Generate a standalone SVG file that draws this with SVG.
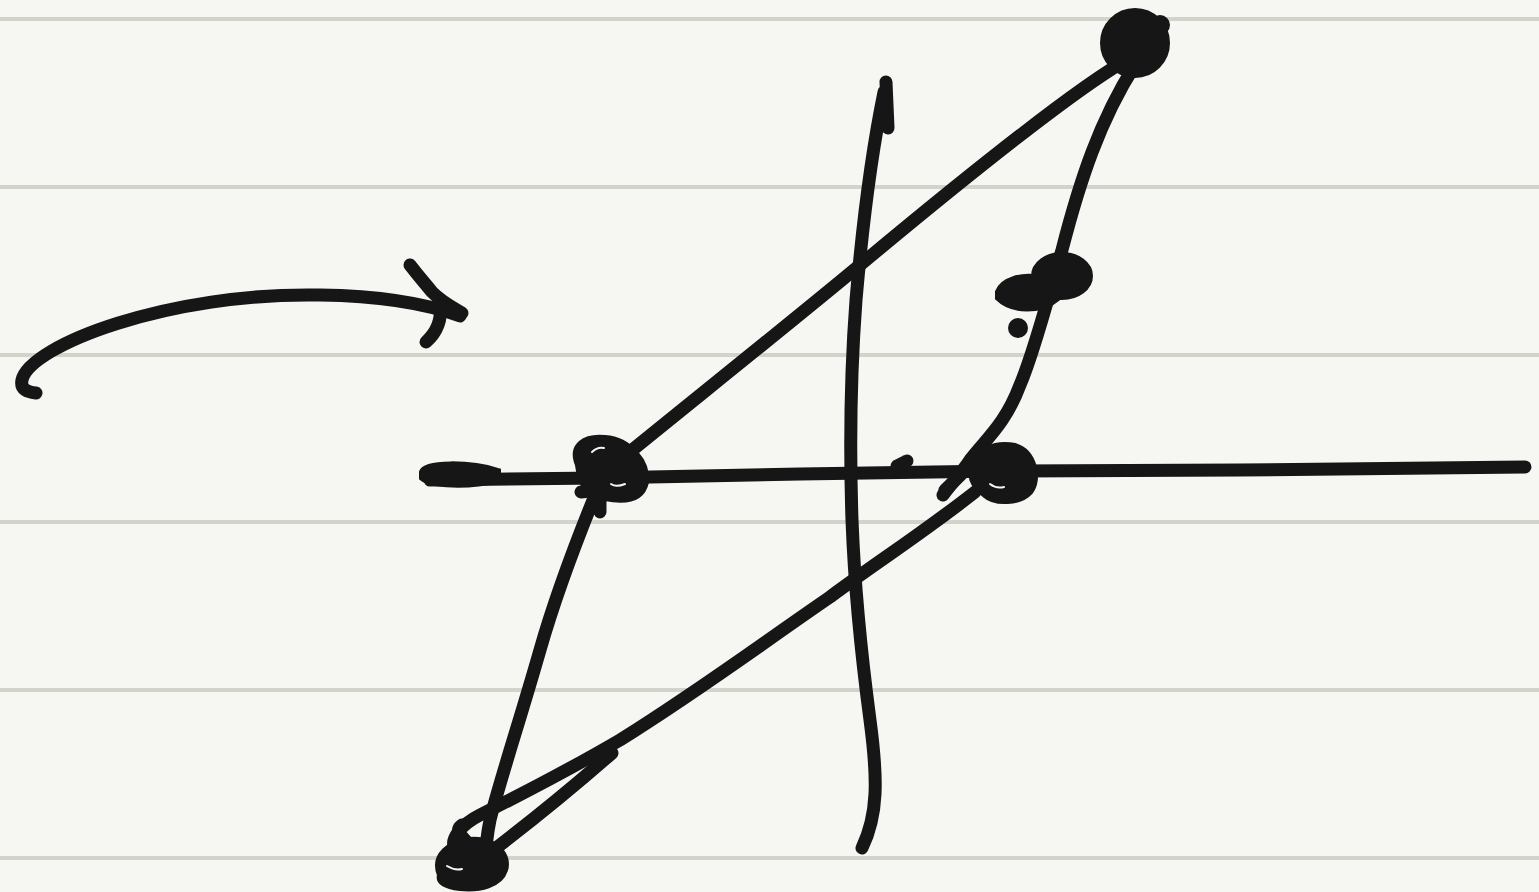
<svg xmlns="http://www.w3.org/2000/svg" width="1539" height="892" viewBox="0 0 1539 892">
<style>
.rule{stroke:#d3d3cc;stroke-width:4}
.ink{fill:none;stroke:#161616;stroke-width:13;stroke-linecap:round;stroke-linejoin:round}
.blob{fill:#161616;stroke:#161616;stroke-width:6}
.hi{fill:none;stroke:#f6f7f2;stroke-width:2;stroke-linecap:round}
</style>
<rect width="1539" height="892" fill="#f6f7f2"/>
<g id="paper">
<line class="rule" x1="0" y1="19" x2="1539" y2="19"/>
<line class="rule" x1="0" y1="187" x2="1539" y2="187"/>
<line class="rule" x1="0" y1="355" x2="1539" y2="355"/>
<line class="rule" x1="0" y1="522" x2="1539" y2="522"/>
<line class="rule" x1="0" y1="690" x2="1539" y2="690"/>
<line class="rule" x1="0" y1="858" x2="1539" y2="858"/>
</g>
<g id="arrow">
<path class="ink" d="M36,393 C28,392 20,390 22,380 C30,345 170,292 320,295 C390,296 430,305 460,316"/>
<path class="ink" d="M410,265 C420,278 425,283 432,292 C442,302 452,307 462,313"/>
<path class="ink" d="M440,305 C442,320 437,332 426,342"/>
</g>
<g id="strokes">
<path class="ink" d="M430,480 L600,478 L800,474 L1000,471 L1240,470 L1525,467"/>
<path class="blob" d="M422,472 C425,462 470,462 498,471 L498,480 C470,487 430,486 422,478 Z"/>
<path class="ink" d="M1130,58 C1090,80 1010,140 860,265 C800,315 700,395 620,460"/>
<path class="ink" d="M1135,65 C1100,120 1080,180 1062,250 C1050,290 1035,350 1020,385 C1005,425 985,440 970,460 C960,475 950,485 943,495"/>
<path class="ink" d="M975,492 C920,535 880,560 830,597 C760,645 700,690 620,740 C560,775 500,805 480,815 C460,825 450,840 455,848"/>
<path class="ink" d="M612,753 C570,790 520,830 478,862"/>
<path class="ink" d="M598,488 C585,520 560,580 540,650 C520,720 500,780 490,820 C487,835 486,845 486,855"/>
<path class="ink" d="M886,82 L888,128"/>
<path class="ink" d="M884,92 C870,160 862,230 856,300 C850,380 850,460 852,520 C855,600 862,660 870,720 C878,780 878,815 862,848"/>
<path class="ink" d="M897,466 L907,461"/>
</g>
<g id="knots">
<path class="blob" d="M578,465 C570,445 585,436 605,438 C630,440 648,462 646,482 C642,500 625,502 605,498 C585,496 580,480 578,465 Z"/>
<path class="ink" d="M581,492 L598,490 M600,500 L600,512"/>
<path class="hi" d="M592,452 C596,448 600,447 604,448 M611,484 C615,487 620,486 625,484"/>
<path class="blob" d="M972,470 C975,450 995,442 1015,446 C1035,452 1040,480 1030,492 C1020,503 995,504 985,495 C975,487 970,480 972,470 Z"/>
<path class="ink" d="M975,455 C968,470 955,480 945,490"/>
<path class="hi" d="M990,484 C995,488 1000,488 1004,487"/>
<path class="blob" d="M440,875 C432,855 450,842 470,840 C495,838 510,855 505,870 C500,885 480,890 460,888 C445,886 438,882 440,875 Z"/>
<path class="ink" d="M470,845 C460,835 455,830 462,825"/>
<path class="hi" d="M447,866 C452,869 458,870 462,869"/>
<circle class="blob" cx="1135" cy="43" r="32"/>
<circle class="blob" cx="1160" cy="25" r="7"/>
<ellipse class="blob" cx="1062" cy="276" rx="28" ry="21"/>
<path class="blob" d="M998,292 C1002,280 1022,274 1040,278 L1058,298 C1042,312 1012,312 998,298 Z"/>
<circle class="blob" cx="1018" cy="328" r="7"/>
</g>
</svg>
